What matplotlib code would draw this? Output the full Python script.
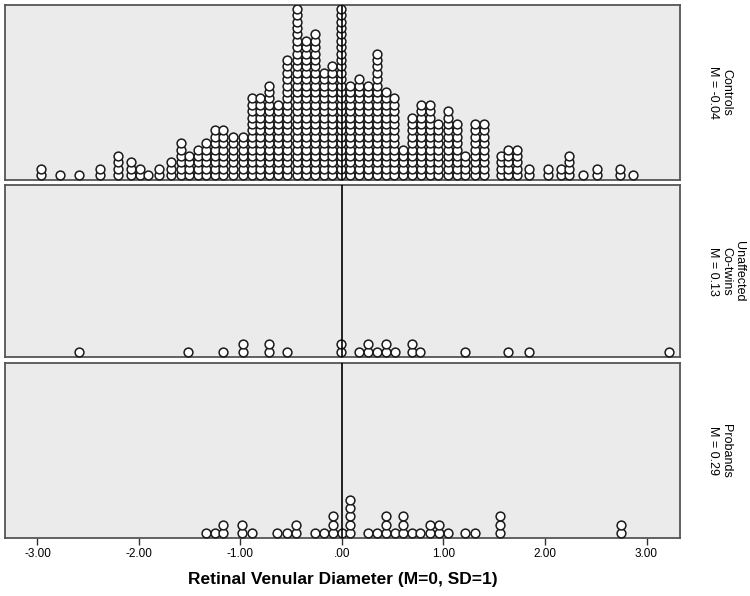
import matplotlib
matplotlib.use("Agg")
import matplotlib.pyplot as plt
import numpy as np

# column centres (M=0, SD=1 units) and number of stacked dots per column
controls_x = [-2.97, -2.78, -2.59, -2.38, -2.21, -2.08, -1.99, -1.91, -1.80, -1.68,
              -1.59, -1.51, -1.42, -1.34, -1.25, -1.17, -1.07, -0.98, -0.89, -0.81,
              -0.72, -0.63, -0.54, -0.44, -0.35, -0.27, -0.18, -0.10, -0.01, 0.08,
              0.17, 0.26, 0.34, 0.43, 0.51, 0.60, 0.69, 0.78, 0.87, 0.95,
              1.04, 1.13, 1.21, 1.31, 1.40, 1.57, 1.64, 1.72, 1.84, 2.03,
              2.16, 2.24, 2.37, 2.51, 2.74, 2.87]
controls_n = [2, 1, 1, 2, 4, 3, 2, 1, 2, 3,
              6, 4, 5, 6, 8, 8, 7, 7, 13, 13,
              15, 12, 19, 27, 22, 23, 17, 18, 27, 15,
              16, 15, 20, 14, 13, 5, 10, 12, 12, 9,
              11, 9, 4, 9, 9, 4, 5, 5, 2, 2,
              2, 4, 1, 2, 2, 1]

cotwins_x = [-2.59, -1.52, -1.17, -0.98, -0.72, -0.54, -0.01, 0.17, 0.26, 0.34,
             0.43, 0.52, 0.69, 0.77, 1.21, 1.64, 1.84, 3.22]
cotwins_n = [1, 1, 1, 2, 2, 1, 2, 1, 2, 1,
             2, 1, 2, 1, 1, 1, 1, 1]

probands_x = [-1.34, -1.25, -1.17, -0.99, -0.89, -0.64, -0.54, -0.45, -0.27, -0.18,
              -0.09, 0.00, 0.08, 0.26, 0.34, 0.43, 0.52, 0.60, 0.69, 0.77,
              0.87, 0.96, 1.04, 1.21, 1.31, 1.56, 2.75]
probands_n = [1, 1, 2, 2, 1, 1, 1, 2, 1, 1,
              3, 1, 5, 1, 1, 3, 1, 3, 1, 1,
              2, 2, 1, 1, 1, 3, 2]

panel_labels = ["Controls\nM = -0.04", "Unaffected\nCo-twins\nM = 0.13", "Probands\nM = 0.29"]
tick_vals = [-3, -2, -1, 0, 1, 2, 3]
tick_labels = ["-3.00", "-2.00", "-1.00", ".00", "1.00", "2.00", "3.00"]

W, H = 750, 596
fig = plt.figure(figsize=(W / 100, H / 100), dpi=100)

# (top px, bottom px, px per stacked dot)
panels = [
    (5, 180, 6.4, controls_x, controls_n),
    (185, 357, 8.4, cotwins_x, cotwins_n),
    (363, 538, 8.4, probands_x, probands_n),
]

left_px, right_px = 5, 680
axes = []
for i, (top, bot, step, xs, ns) in enumerate(panels):
    ax = fig.add_axes([left_px / W, 1 - bot / H, (right_px - left_px) / W, (bot - top) / H])
    ax.set_facecolor("#ebebeb")
    px = []
    py = []
    for x, n in zip(xs, ns):
        px += [x] * n
        py += list(range(n))
    ax.scatter(px, py, s=40, facecolor="white", edgecolor="#1a1a1a", linewidths=1.1, zorder=3)
    off = 4.8 / step
    ax.set_ylim(-off, -off + (bot - top) / step)
    ax.set_xlim(-3.32, 3.33)
    ax.axvline(0, color="black", lw=1.2, zorder=4)
    ax.set_yticks([])
    for sp in ax.spines.values():
        sp.set_color("#555555")
        sp.set_linewidth(1.3)
    if i < 2:
        ax.set_xticks([])
    else:
        ax.set_xticks(tick_vals)
        ax.set_xticklabels(tick_labels, fontsize=8.5, family=["Liberation Sans Narrow", "Liberation Sans"])
        ax.tick_params(axis="x", length=5, width=1, color="#333333", pad=2)
        ax.set_xlabel("Retinal Venular Diameter (M=0, SD=1)", fontsize=12.5, fontweight="bold",
                      family=["Liberation Sans Narrow", "Liberation Sans"], labelpad=9)
    fig.text(707 / W, 1 - (top + bot) / 2 / H, panel_labels[i], rotation=-90,
             ha="left", va="center", multialignment="center", fontsize=9,
             linespacing=1.1, family=["Liberation Sans", "DejaVu Sans"])
    axes.append(ax)

fig.savefig("out.png", dpi=100)
